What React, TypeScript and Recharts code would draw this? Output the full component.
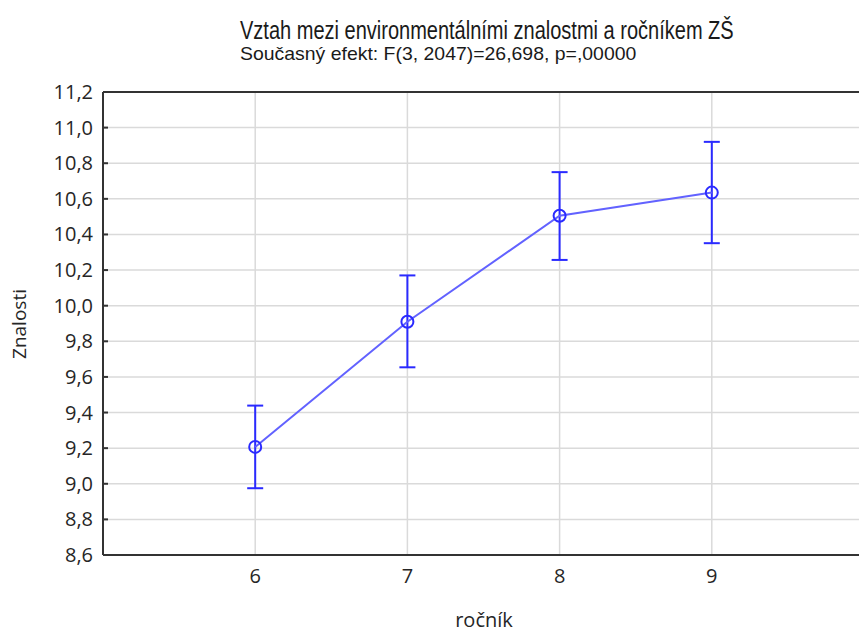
import React from 'react';
import { ComposedChart, Line, XAxis, YAxis, CartesianGrid, ErrorBar, ReferenceLine } from 'recharts';

// ročník vs. mean score, with the whiskers
const grades = [6, 7, 8, 9];
const means = [9.207, 9.91, 10.505, 10.635];
const lows = [8.975, 9.654, 10.257, 10.351];
const highs = [9.439, 10.17, 10.75, 10.92];

const yTicks = [8.6, 8.8, 9.0, 9.2, 9.4, 9.6, 9.8, 10.0, 10.2, 10.4, 10.6, 10.8, 11.0, 11.2];
const xTicks = [6, 7, 8, 9];

const data = grades.map((g, i) => ({
  grade: g,
  mean: means[i],
  err: [means[i] - lows[i], highs[i] - means[i]],
}));

const fmt = (v: number) => v.toFixed(1).replace('.', ',');
const tickFont = '"Open Sans", sans-serif';
const titleFont = '"Liberation Sans", sans-serif';

const YTick = (props: any) => {
  const { x, y, payload } = props;
  const inner = payload.value > 8.61 && payload.value < 11.19;
  return (
    <g>
      <text x={x} y={y} dy="0.35em" textAnchor="end" fontSize={20} fontFamily={tickFont} fill="#262626">
        {fmt(payload.value)}
      </text>
      {inner && <line x1={x + 10} x2={x + 15} y1={y} y2={y} stroke="#333" strokeWidth={2} />}
    </g>
  );
};

const Marker = (props: any) => {
  const { cx, cy } = props;
  if (cx == null || cy == null) return null;
  return <circle cx={cx} cy={cy} r={6} fill="none" stroke="#2a2aff" strokeWidth={2} />;
};

export default function App() {
  return (
    <div style={{ position: 'absolute', left: 0, top: 0, width: 859, height: 634, overflow: 'hidden', background: '#fff' }}>
      <ComposedChart width={870} height={634} data={data} margin={{ top: 92, right: 6, left: 43, bottom: 39 }}>
        <CartesianGrid stroke="#dadada" strokeWidth={1.5} />
        <XAxis
          dataKey="grade"
          type="number"
          domain={[5, 10]}
          ticks={xTicks}
          tickSize={0}
          tickMargin={14}
          height={40}
          stroke="#333"
          strokeWidth={2}
          tick={{ fontSize: 20, fontFamily: tickFont, fill: '#262626' }}
        />
        <YAxis
          type="number"
          domain={[8.6, 11.2]}
          ticks={yTicks}
          width={60}
          tickSize={0}
          tickMargin={10}
          stroke="#333"
          strokeWidth={2}
          tick={<YTick />}
          interval={0}
        />
        <ReferenceLine y={11.2} stroke="#333" strokeWidth={2} />
        <Line
          dataKey="mean"
          stroke="#6262ff"
          strokeWidth={2}
          dot={<Marker />}
          activeDot={false}
          isAnimationActive={false}
        >
          <ErrorBar dataKey="err" direction="y" width={8} stroke="#2a2aff" strokeWidth={2} isAnimationActive={false} />
        </Line>
      </ComposedChart>
      <svg width={859} height={634} style={{ position: 'absolute', left: 0, top: 0, pointerEvents: 'none' }}>
        {/* the original title font is a condensed sans, so squeeze it horizontally */}
        <text transform="translate(240 39) scale(0.77 1)" fontSize={26} fontFamily={titleFont} fill="#1a1a1a">
          Vztah mezi environmentálními znalostmi a ročníkem ZŠ
        </text>
        <text transform="translate(240 60) scale(1.08 1)" fontSize={18} fontFamily={titleFont} fill="#1a1a1a">
          Současný efekt: F(3, 2047)=26,698, p=,00000
        </text>
        <text x={484} y={627} textAnchor="middle" fontSize={20} fontFamily={tickFont} fill="#262626">
          ročník
        </text>
        <text
          x={26}
          y={324}
          textAnchor="middle"
          fontSize={19}
          fontFamily={tickFont}
          fill="#262626"
          transform="rotate(-90 26 324)"
        >
          Znalosti
        </text>
      </svg>
    </div>
  );
}
